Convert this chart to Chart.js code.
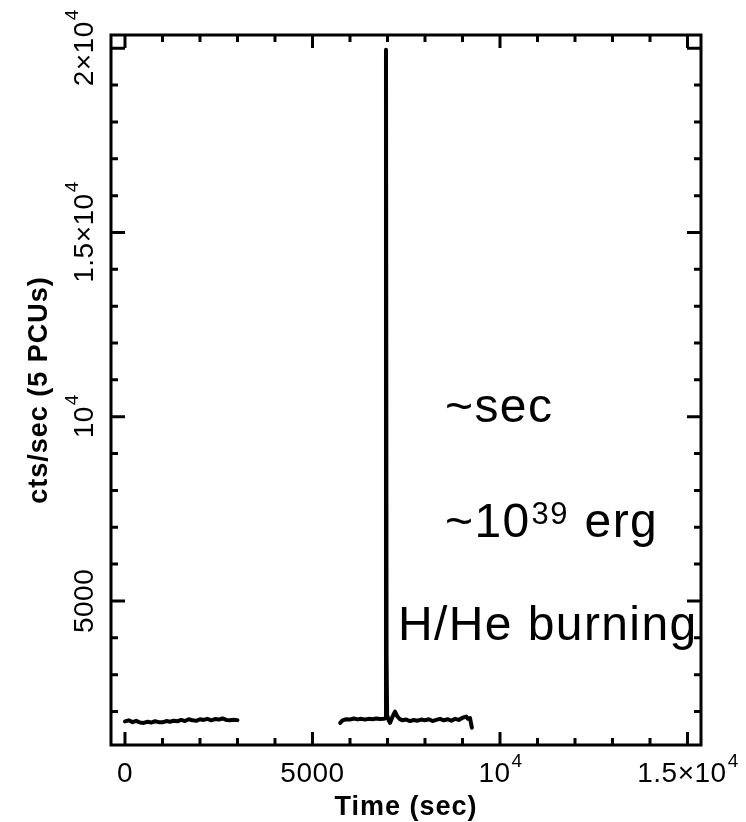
<!DOCTYPE html>
<html>
<head>
<meta charset="utf-8">
<script src="https://cdn.jsdelivr.net/npm/chart.js@4.4.1/dist/chart.umd.min.js"></script>
<style>
  html, body { margin: 0; padding: 0; background: #ffffff; }
  #wrap { width: 746px; height: 822px; position: relative; }
</style>
</head>
<body>
<div id="wrap"><canvas id="lc" width="746" height="822"></canvas></div>
<script>
// Light curve: first observation segment (time in s, rate in cts/s, 5 PCUs)
const timeSeg1 = [0, 100, 200, 300, 400, 500, 600, 700, 800, 900, 1000, 1100, 1200, 1300, 1400,
  1500, 1600, 1700, 1800, 1900, 2000, 2100, 2200, 2300, 2400, 2500, 2600, 2700, 2800, 2900, 3000];
const countsSeg1 = [1730, 1760, 1710, 1745, 1700, 1690, 1720, 1700, 1735, 1710, 1705, 1740, 1720, 1750, 1735,
  1770, 1740, 1790, 1760, 1745, 1790, 1770, 1800, 1760, 1795, 1780, 1810, 1770, 1760, 1775, 1765];

// Second segment, containing the burst
const timeSeg2 = [5740, 5800, 5900, 6000, 6100, 6200, 6300, 6400, 6500, 6600, 6700, 6800, 6900, 6950,
  6960, 6975, 6990, 7030, 7070, 7130, 7200, 7260, 7330, 7400, 7500, 7600, 7700, 7800, 7900, 8000,
  8100, 8200, 8300, 8400, 8500, 8600, 8700, 8800, 8900, 9000, 9100, 9150, 9200, 9250];
const countsSeg2 = [1690, 1760, 1790, 1780, 1810, 1785, 1800, 1780, 1800, 1790, 1810, 1795, 1800, 1820,
  19960, 3500, 1900, 1760, 1690, 1850, 1995, 1870, 1790, 1760, 1780, 1740, 1770, 1750, 1780, 1760,
  1790, 1740, 1770, 1800, 1760, 1790, 1750, 1800, 1770, 1830, 1860, 1800, 1820, 1560];

// Axis ranges and tick labels
const xRange = [-373, 15360];
const yRange = [1090, 20360];
const xMajorTicks = [0, 5000, 10000, 15000];
const xTickLabels = [['0', ''], ['5000', ''], ['10', '4'], ['1.5×10', '4']];
const yMajorTicks = [5000, 10000, 15000, 20000];
const yTickLabels = [['5000', ''], ['10', '4'], ['1.5×10', '4'], ['2×10', '4']];
const minorStep = 1000;

const xTitle = 'Time (sec)';
const yTitle = 'cts/sec (5 PCUs)';

// Annotation lines: [text, superscript, trailing text, x (s), y (cts/s)]
const notes = [
  ['~sec', '', '', 8533, 9864],
  ['~10', '39', ' erg', 8533, 6744],
  ['H/He burning', '', '', 7280, 3940]
];

const toPoints = (xs, ys) => xs.map((x, i) => ({ x: x, y: ys[i] }));

function drawSupText(ctx, base, sup, x, y, baseFont, supFont, raise, align) {
  ctx.font = baseFont;
  const wb = ctx.measureText(base).width;
  ctx.font = supFont;
  const ws = sup ? ctx.measureText(sup).width : 0;
  const total = wb + ws;
  let start = x;
  if (align === 'center') start = x - total / 2;
  ctx.textAlign = 'left';
  ctx.textBaseline = 'alphabetic';
  ctx.font = baseFont;
  ctx.fillText(base, start, y);
  if (sup) {
    ctx.font = supFont;
    ctx.fillText(sup, start + wb + 1, y - raise);
  }
  return start + total;
}

const framePlugin = {
  id: 'frameAxes',
  afterDatasetsDraw(chart) {
    const ctx = chart.ctx;
    const a = chart.chartArea;
    const xs = chart.scales.x;
    const ys = chart.scales.y;
    ctx.save();
    ctx.strokeStyle = '#000';
    ctx.fillStyle = '#000';
    ctx.lineCap = 'butt';

    // frame
    ctx.lineWidth = 3;
    ctx.strokeRect(a.left, a.top, a.right - a.left, a.bottom - a.top);

    // tick marks on all four sides, pointing inward
    ctx.lineWidth = 3;
    ctx.beginPath();
    for (let v = 0; v <= 15000; v += minorStep) {
      const px = xs.getPixelForValue(v);
      const len = (v % 5000 === 0) ? 13 : 7;
      ctx.moveTo(px, a.bottom); ctx.lineTo(px, a.bottom - len);
      ctx.moveTo(px, a.top); ctx.lineTo(px, a.top + len);
    }
    for (let v = 2000; v <= 20000; v += minorStep) {
      const py = ys.getPixelForValue(v);
      const len = (v % 5000 === 0) ? 14 : 7;
      ctx.moveTo(a.left, py); ctx.lineTo(a.left + len, py);
      ctx.moveTo(a.right, py); ctx.lineTo(a.right - len, py);
    }
    ctx.stroke();

    const tickFont = '28px "Liberation Sans", Arial, sans-serif';
    const supFont = '19px "Liberation Sans", Arial, sans-serif';
    ctx.letterSpacing = '0.5px';

    // x tick labels
    xMajorTicks.forEach((v, i) => {
      const px = xs.getPixelForValue(v);
      drawSupText(ctx, xTickLabels[i][0], xTickLabels[i][1], px, 782, tickFont, supFont, 15, 'center');
    });

    // y tick labels, rotated
    yMajorTicks.forEach((v, i) => {
      const py = ys.getPixelForValue(v);
      ctx.save();
      ctx.translate(93, py);
      ctx.rotate(-Math.PI / 2);
      drawSupText(ctx, yTickLabels[i][0], yTickLabels[i][1], 0, 0, tickFont, supFont, 15, 'center');
      ctx.restore();
    });

    // axis titles
    const titleFont = 'bold 27px "Liberation Sans", Arial, sans-serif';
    ctx.letterSpacing = '1px';
    ctx.font = titleFont;
    ctx.textAlign = 'center';
    ctx.textBaseline = 'alphabetic';
    ctx.fillText(xTitle, (a.left + a.right) / 2, 815);
    ctx.save();
    ctx.translate(47, (a.top + a.bottom) / 2);
    ctx.rotate(-Math.PI / 2);
    ctx.fillText(yTitle, 0, 0);
    ctx.restore();

    // annotations
    ctx.letterSpacing = '1.4px';
    const noteFont = '48px "Liberation Sans", Arial, sans-serif';
    const noteSup = '31px "Liberation Sans", Arial, sans-serif';
    notes.forEach(n => {
      const px = xs.getPixelForValue(n[3]);
      const py = ys.getPixelForValue(n[4]);
      let end = drawSupText(ctx, n[0], n[1], px, py, noteFont, noteSup, 13, 'left');
      if (n[2]) {
        ctx.font = noteFont;
        ctx.textAlign = 'left';
        ctx.fillText(n[2], end + 2, py);
      }
    });
    ctx.restore();
  }
};

new Chart(document.getElementById('lc'), {
  type: 'line',
  data: {
    datasets: [
      { data: toPoints(timeSeg1, countsSeg1) },
      { data: toPoints(timeSeg2, countsSeg2) }
    ]
  },
  options: {
    responsive: false,
    animation: false,
    layout: { padding: { left: 111, right: 45, top: 35, bottom: 77 } },
    elements: {
      line: { borderColor: '#000', borderWidth: 4, tension: 0, borderJoinStyle: 'round', borderCapStyle: 'round', fill: false },
      point: { radius: 0 }
    },
    scales: {
      x: { type: 'linear', min: xRange[0], max: xRange[1], display: false },
      y: { type: 'linear', min: yRange[0], max: yRange[1], display: false }
    },
    plugins: { legend: { display: false }, tooltip: { enabled: false } }
  },
  plugins: [framePlugin]
});
</script>
</body>
</html>
